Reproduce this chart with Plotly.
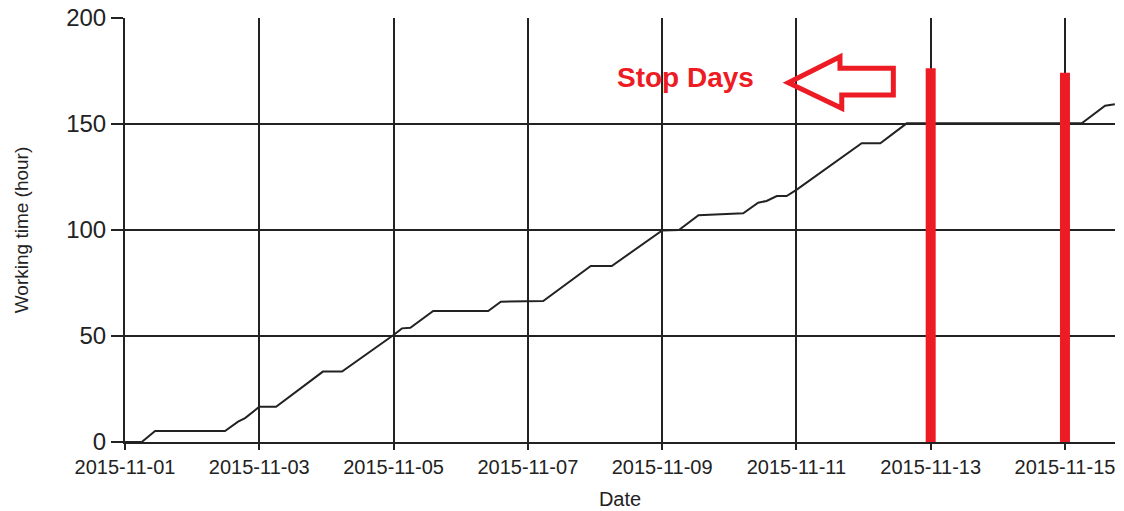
import plotly.graph_objects as go

# Cumulative working time (hours)
times = [
    "2015-11-01 00:00", "2015-11-01 06:00", "2015-11-01 10:45", "2015-11-02 11:45",
    "2015-11-02 16:25", "2015-11-02 18:55", "2015-11-03 00:00", "2015-11-03 06:00",
    "2015-11-03 22:45", "2015-11-04 05:35", "2015-11-05 00:00", "2015-11-05 03:00",
    "2015-11-05 06:00", "2015-11-05 14:10", "2015-11-06 09:50", "2015-11-06 14:20",
    "2015-11-07 05:30", "2015-11-07 22:30", "2015-11-08 06:00", "2015-11-09 00:00",
    "2015-11-09 06:00", "2015-11-09 13:00", "2015-11-10 05:00", "2015-11-10 10:20",
    "2015-11-10 13:20", "2015-11-10 17:00", "2015-11-10 20:30", "2015-11-11 00:00",
    "2015-11-11 23:20", "2015-11-12 06:00", "2015-11-12 15:25", "2015-11-15 06:00",
    "2015-11-15 14:20", "2015-11-15 17:50",
]
hours = [
    0, 0, 5.2, 5.2,
    9.6, 11.3, 16.6, 16.6,
    33.2, 33.2, 50.5, 53.6,
    53.9, 61.8, 61.8, 66.2,
    66.5, 83.0, 83.0, 99.8,
    100.0, 107.0, 107.9, 112.9,
    113.7, 116.0, 116.0, 118.9,
    140.9, 140.9, 150.3, 150.3,
    158.6, 159.3,
]

# Stop-day markers (red bars)
stop_days = ["2015-11-13", "2015-11-15"]
stop_tops = [176.3, 174.2]

x_range = ["2015-11-01 00:00", "2015-11-15 17:53"]
y_ticks = [0, 50, 100, 150, 200]

INK = "#222222"
RED = "#ED1C24"
FONT = "Liberation Sans, Arial, sans-serif"

fig = go.Figure()

fig.add_trace(go.Scatter(
    x=times, y=hours, mode="lines",
    line=dict(color=INK, width=2),
    showlegend=False, hoverinfo="skip",
))

for d, top in zip(stop_days, stop_tops):
    fig.add_trace(go.Scatter(
        x=[d, d], y=[0, top], mode="lines",
        line=dict(color=RED, width=10),
        showlegend=False, hoverinfo="skip",
    ))

# Hollow left-pointing arrow (paper coordinates)
arrow = ("M 0.670 0.8474 L 0.7222 0.9087 L 0.7222 0.8814 L 0.7761 0.8814 "
         "L 0.7761 0.8184 L 0.724 0.8184 L 0.724 0.7870 Z")
fig.add_shape(type="path", path=arrow, xref="paper", yref="paper",
              line=dict(color=RED, width=5), fillcolor="rgba(0,0,0,0)")

fig.add_annotation(
    x=0.5657, y=0.8585, xref="paper", yref="paper",
    text="<b>Stop Days</b>", showarrow=False,
    font=dict(family=FONT, size=28, color=RED),
    xanchor="center", yanchor="middle",
)

fig.update_layout(
    width=1124, height=511,
    margin=dict(l=125, r=9, t=18, b=69, autoexpand=False),
    paper_bgcolor="white", plot_bgcolor="white",
    font=dict(family=FONT, color=INK),
)

fig.update_xaxes(
    type="date", range=x_range, automargin=False,
    tick0="2015-11-01", dtick=2 * 86400000, tickformat="%Y-%m-%d",
    showgrid=True, gridcolor=INK, gridwidth=2,
    showline=True, linecolor=INK, linewidth=2,
    ticks="outside", ticklen=6, tickwidth=2, tickcolor=INK,
    tickfont=dict(family=FONT, size=20, color=INK),
    title=dict(text="Date", font=dict(family=FONT, size=20, color=INK), standoff=15),
    zeroline=False, fixedrange=True,
)

fig.update_yaxes(
    range=[0, 200], tickvals=y_ticks, automargin=False,
    showgrid=True, gridcolor=INK, gridwidth=2,
    showline=True, linecolor=INK, linewidth=2,
    ticks="outside", ticklen=12, tickwidth=2, tickcolor=INK,
    tickfont=dict(family=FONT, size=24, color=INK),
    title=dict(text="Working time (hour)", font=dict(family=FONT, size=19, color=INK), standoff=33),
    zeroline=False, fixedrange=True,
)

fig.write_html(
    "out.html",
    config={"displayModeBar": False},
    post_script="document.body.style.margin='0';document.body.style.overflow='hidden';",
)
